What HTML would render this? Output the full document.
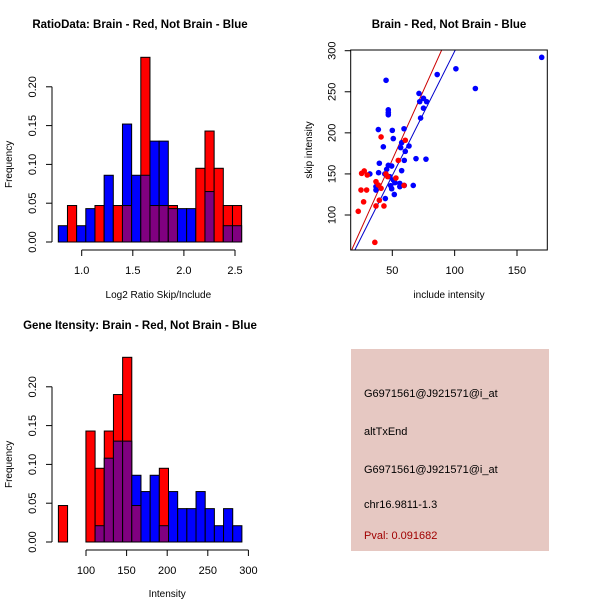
<!DOCTYPE html>
<html><head><meta charset="utf-8"><style>
body{margin:0;background:#fff;}
svg text{font-family:"Liberation Sans",sans-serif;}
</style></head><body>
<svg id="s" width="600" height="600" xmlns="http://www.w3.org/2000/svg">
<rect width="600" height="600" fill="#fff"/>
<g id="p1"></g>
<g id="p2"></g>
<g id="p3"></g>
<g>
<rect x="351" y="349" width="198" height="202" fill="#e6c8c2"/>
<text x="364" y="397" font-size="11">G6971561@J921571@i_at</text>
<text x="364" y="435" font-size="11">altTxEnd</text>
<text x="364" y="473" font-size="11">G6971561@J921571@i_at</text>
<text x="364" y="508" font-size="11">chr16.9811-1.3</text>
<text x="364" y="539" font-size="11" fill="#a00000">Pval: 0.091682</text>
</g>
</svg>
<script>
// Histogram 1 data
const h1Start = 0.771, h1Width = 0.0897;
const h1Blue = [0.021,0,0.021,0.043,0,0.086,0,0.152,0.086,0.086,0.130,0.130,0.043,0.043,0.043,0,0.065,0,0.021,0.021];
const h1Red  = [0,0.047,0,0,0.047,0,0.047,0.047,0,0.238,0.047,0.047,0.047,0,0,0.095,0.143,0.095,0.047,0.047];
const h1XTicks = [1.0,1.5,2.0,2.5];
const h1XLabels = ["1.0","1.5","2.0","2.5"];
const yTicks = [0,0.05,0.10,0.15,0.20];
const yLabels = ["0.00","0.05","0.10","0.15","0.20"];
// Histogram 3 data
const h3Start = 66, h3Width = 11.3;
const h3Blue = [0,0,0,0,0.021,0.108,0.130,0.130,0.086,0.065,0.086,0.021,0.065,0.043,0.043,0.065,0.043,0.021,0.043,0.021];
const h3Red  = [0.047,0,0,0.143,0.095,0.143,0.190,0.238,0.047,0,0,0.095,0,0,0,0,0,0,0,0];
const h3XTicks = [100,150,200,250,300];
const h3XLabels = ["100","150","200","250","300"];
// Scatter data
const blueX = [169.8,101,116.6,86,45,71.4,75,72,77.5,75,72.7,46.8,46.8,46.8,38.8,50,50.8,42.8,59.4,63.4,56.7,60.4,57.5,59.6,69,77,57.5,39.6,46.8,49.5,45.5,39,32,44,48,50.8,52.1,48.7,49.5,56,56,51.6,66.8,36.9,36.9,44.4,59.6];
const blueY = [291.9,278,254,271,264,248,242,238,238,230,218,228,224.6,222,204,203,193,183,205,184,182,177.5,188,166.5,168.6,168,154,163,160.5,159.6,155.6,151.5,150,150,146.7,142.6,139.4,135.7,132,138.5,134.5,125,136,134.5,130.4,120,136];
const redX = [60.4,41,54.8,52.9,46.3,44.9,27.5,25.4,29.9,36.9,38.8,41,24.9,29.4,27,22.7,36.9,43.3,39.6,36,59.4];
const redY = [191,195,166.5,145,146.7,150,153.6,150.7,148.7,140.6,136.5,132.5,130.4,130.4,116,104.5,111,111,118,66.7,136];
const redLine = [[17.4,57.4],[89.6,300.8]];
const blueLine = [[20,57.4],[100.5,300.8]];
const sXTicks = [50,100,150];
const sYTicks = [100,150,200,250,300];

const NS="http://www.w3.org/2000/svg";
function mk(parent,tag,attrs,txt){const e=document.createElementNS(NS,tag);for(const k in attrs)e.setAttribute(k,attrs[k]);if(txt!=null)e.textContent=txt;parent.appendChild(e);return e;}

function hist(g,start,width,blue,red,xT,xL,xs,ys,yAxisX,xAxisY,title,xlab,titleY,xlabY){
  const n=blue.length;
  for(let i=0;i<n;i++){
    const x0=xs(start+i*width), x1=xs(start+(i+1)*width);
    const b=blue[i], r=red[i], mx=Math.max(b,r), mn=Math.min(b,r);
    if(mx>0){
      const e=mk(g,'rect',{x:x0,y:ys(mx),width:x1-x0,height:ys(0)-ys(mx),fill:b>=r?'#0000ff':'#ff0000',stroke:'#000','stroke-width':1});
      
      
    }
    if(mn>0){
      const e=mk(g,'rect',{x:x0,y:ys(mn),width:x1-x0,height:ys(0)-ys(mn),fill:'#800080',stroke:'#000','stroke-width':1});
      
      
    }
  }
  const ya=mk(g,'g',{});
  
  
  mk(ya,'line',{x1:yAxisX,x2:yAxisX,y1:ys(0),y2:ys(0.2),stroke:'#000'});
  yTicks.forEach((t,i)=>{
    mk(ya,'line',{x1:yAxisX-6,x2:yAxisX,y1:ys(t),y2:ys(t),stroke:'#000'});
    const bx=yAxisX-16;
    const tx=mk(ya,'text',{x:bx,y:ys(t),'font-size':11,'text-anchor':'middle',transform:`rotate(-90 ${bx} ${ys(t)})`},yLabels[i]);
    
    
  });
  const xa=mk(g,'g',{});
  
  
  mk(xa,'line',{x1:xs(xT[0]),x2:xs(xT[xT.length-1]),y1:xAxisY,y2:xAxisY,stroke:'#000'});
  xT.forEach((t,i)=>{
    mk(xa,'line',{x1:xs(t),x2:xs(t),y1:xAxisY,y2:xAxisY+6,stroke:'#000'});
    const tx=mk(xa,'text',{x:xs(t),y:xAxisY+24,'font-size':11,'text-anchor':'middle'},xL[i]);
    
    
  });
  const yl=mk(g,'text',{x:12,y:ys(0.1),'font-size':10,'text-anchor':'middle',transform:`rotate(-90 12 ${ys(0.1)})`},'Frequency');
  
  
  const xl=mk(g,'text',{x:xs((xT[0]+xT[xT.length-1])/2),y:xlabY,'font-size':10,'text-anchor':'middle'},xlab);
  
  
  const tt=mk(g,'text',{x:140,y:titleY,'font-size':11.5,'font-weight':'bold','text-anchor':'middle'},title);
  
  
}

{
  const xs=v=>81.7+(v-1.0)*102.2;
  const ys=v=>242-v*776;
  hist(document.getElementById('p1'),h1Start,h1Width,h1Blue,h1Red,h1XTicks,h1XLabels,xs,ys,52,250,'RatioData: Brain - Red, Not Brain - Blue','Log2 Ratio Skip/Include',28,298);
}
{
  const xs=v=>86+(v-100)*0.812;
  const ys=v=>542-v*776;
  hist(document.getElementById('p3'),h3Start,h3Width,h3Blue,h3Red,h3XTicks,h3XLabels,xs,ys,52,550,'Gene Itensity: Brain - Red, Not Brain - Blue','Intensity',329,597);
}
{
  const g=document.getElementById('p2');
  const xs=v=>392.3+(v-50)*1.247;
  const ys=v=>215-(v-100)*0.8215;
  const L=350.7,R=547.3,T=50,B=250;
  const cp=mk(g,'clipPath',{id:'clipS'});
  mk(cp,'rect',{x:L,y:T,width:R-L,height:B-T});
  [[redLine,'#cc0000','fit-line-red'],[blueLine,'#0000cc','fit-line-blue']].forEach(([ln,c,n])=>{
    const e=mk(g,'line',{x1:xs(ln[0][0]),y1:ys(ln[0][1]),x2:xs(ln[1][0]),y2:ys(ln[1][1]),stroke:c,'stroke-width':1,'clip-path':'url(#clipS)'});
    
    
  });
  blueX.forEach((x,i)=>{
    const e=mk(g,'circle',{cx:xs(x),cy:ys(blueY[i]),r:2.8,fill:'#0000ff'});
    
    
  });
  redX.forEach((x,i)=>{
    const e=mk(g,'circle',{cx:xs(x),cy:ys(redY[i]),r:2.8,fill:'#ff0000'});
    
    
  });
  const box=mk(g,'rect',{x:L,y:T,width:R-L,height:B-T,fill:'none',stroke:'#000'});
  
  
  sXTicks.forEach(t=>{
    mk(g,'line',{x1:xs(t),x2:xs(t),y1:B,y2:B+6,stroke:'#000'});
    const e=mk(g,'text',{x:xs(t),y:B+24,'font-size':11,'text-anchor':'middle'},String(t));
    
    
  });
  sYTicks.forEach(t=>{
    mk(g,'line',{x1:L-6,x2:L,y1:ys(t),y2:ys(t),stroke:'#000'});
    const bx=L-15;
    const e=mk(g,'text',{x:bx,y:ys(t),'font-size':11,'text-anchor':'middle',transform:`rotate(-90 ${bx} ${ys(t)})`},String(t));
    
    
  });
  const xl=mk(g,'text',{x:449,y:298,'font-size':10,'text-anchor':'middle'},'include intensity');
  
  
  const yl=mk(g,'text',{x:312,y:150,'font-size':10,'text-anchor':'middle',transform:'rotate(-90 312 150)'},'skip intensity');
  
  
  const tt=mk(g,'text',{x:449,y:28,'font-size':11.5,'font-weight':'bold','text-anchor':'middle'},'Brain - Red, Not Brain - Blue');
  
  
}
</script>
</body></html>
